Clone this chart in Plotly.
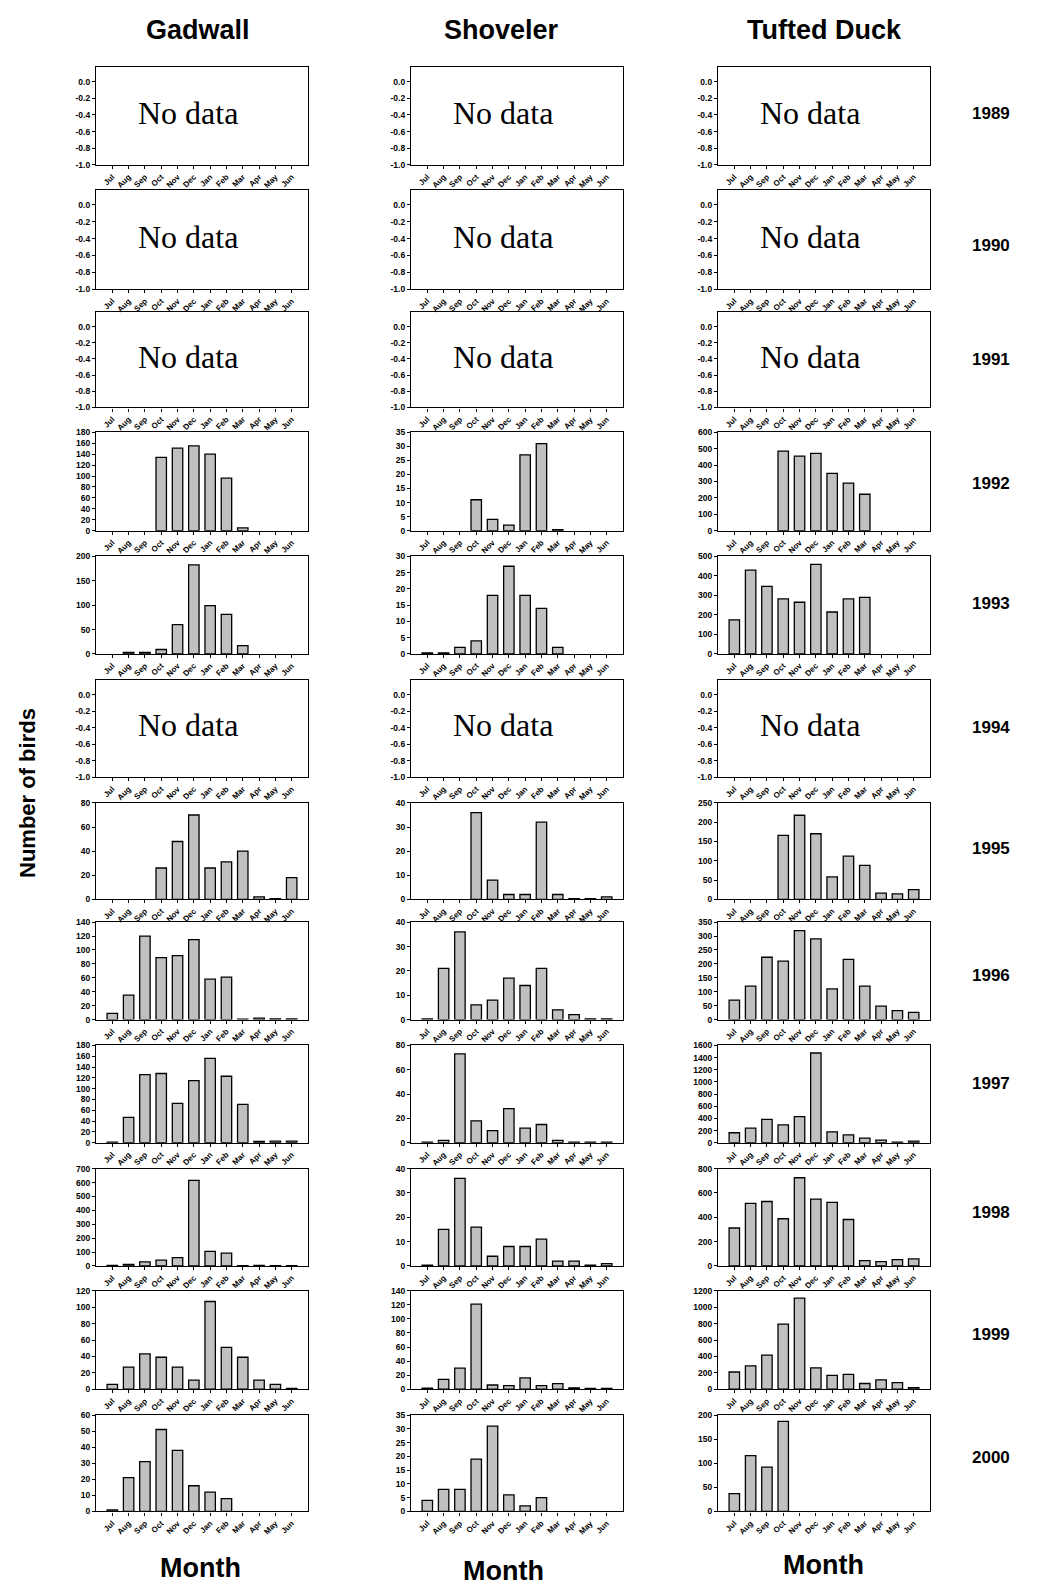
import plotly.graph_objects as go

W, H = 1042, 1585

MONTHS = ["Jul", "Aug", "Sep", "Oct", "Nov", "Dec", "Jan", "Feb", "Mar", "Apr", "May", "Jun"]
YEARS = ["1989", "1990", "1991", "1992", "1993", "1994", "1995", "1996", "1997", "1998", "1999", "2000"]
SPECIES = ["Gadwall", "Shoveler", "Tufted Duck"]
N = None

# ---- Gadwall (None = no data for that year) ----
gadwall_1989 = None
gadwall_1990 = None
gadwall_1991 = None
gadwall_1992 = [N, N, N, 134, 151, 155, 140, 96, 5, N, N, N]
gadwall_1993 = [N, 3, 3, 9, 60, 183, 99, 81, 17, N, N, N]
gadwall_1994 = None
gadwall_1995 = [N, N, N, 26, 48, 70, 26, 31, 40, 2, 0.5, 18]
gadwall_1996 = [9, 35, 120, 89, 92, 115, 58, 61, 0.5, 2, 1, 1]
gadwall_1997 = [1, 47, 126, 128, 73, 115, 156, 123, 71, 2.5, 3, 3]
gadwall_1998 = [5, 12, 30, 42, 60, 615, 105, 92, 3, 5, 3, 3]
gadwall_1999 = [6, 27, 43, 39, 27, 11, 107, 51, 39, 11, 6, 1]
gadwall_2000 = [1, 21, 31, 51, 38, 16, 12, 8, N, N, N, N]
gadwall_ymax = [N, N, N, 180, 200, N, 80, 140, 180, 700, 120, 60]
gadwall_dtick = [N, N, N, 20, 50, N, 20, 20, 20, 100, 20, 10]

# ---- Shoveler ----
shoveler_1989 = None
shoveler_1990 = None
shoveler_1991 = None
shoveler_1992 = [N, N, N, 11, 4, 2, 27, 31, 0.4, N, N, N]
shoveler_1993 = [0.3, 0.3, 2, 4, 18, 27, 18, 14, 2, N, N, N]
shoveler_1994 = None
shoveler_1995 = [N, N, N, 36, 8, 2, 2, 32, 2, 0.3, 0.3, 1]
shoveler_1996 = [0.3, 21, 36, 6, 8, 17, 14, 21, 4, 2, 0.3, 0.3]
shoveler_1997 = [0.5, 2, 73, 18, 10, 28, 12, 15, 2, 0.5, 0.5, 0.5]
shoveler_1998 = [0.3, 15, 36, 16, 4, 8, 8, 11, 2, 2, 0.3, 1]
shoveler_1999 = [1.5, 14, 30, 121, 6, 5, 16, 5, 8, 2, 1, 1]
shoveler_2000 = [4, 8, 8, 19, 31, 6, 2, 5, N, N, N, N]
shoveler_ymax = [N, N, N, 35, 30, N, 40, 40, 80, 40, 140, 35]
shoveler_dtick = [N, N, N, 5, 5, N, 10, 10, 20, 10, 20, 5]

# ---- Tufted Duck ----
tufted_1989 = None
tufted_1990 = None
tufted_1991 = None
tufted_1992 = [N, N, N, 485, 455, 472, 350, 290, 222, N, N, N]
tufted_1993 = [175, 430, 347, 282, 265, 460, 215, 282, 290, N, N, N]
tufted_1994 = None
tufted_1995 = [N, N, N, 166, 218, 170, 58, 112, 88, 16, 14, 25]
tufted_1996 = [70, 120, 224, 210, 320, 290, 110, 216, 120, 48, 32, 26]
tufted_1997 = [165, 240, 385, 295, 430, 1475, 180, 130, 75, 45, 12, 27]
tufted_1998 = [312, 515, 530, 388, 725, 550, 522, 382, 44, 36, 52, 58]
tufted_1999 = [210, 285, 415, 795, 1110, 260, 170, 180, 70, 115, 80, 20]
tufted_2000 = [37, 116, 92, 187, N, N, N, N, N, N, N, N]
tufted_ymax = [N, N, N, 600, 500, N, 250, 350, 1600, 800, 1200, 200]
tufted_dtick = [N, N, N, 100, 100, N, 50, 50, 200, 200, 200, 50]

NODATA_TICKS = [0.0, -0.2, -0.4, -0.6, -0.8, -1.0]

g = globals()
SERIES = {
    "Gadwall": [g["gadwall_" + y] for y in YEARS],
    "Shoveler": [g["shoveler_" + y] for y in YEARS],
    "Tufted Duck": [g["tufted_" + y] for y in YEARS],
}
YMAX = {"Gadwall": gadwall_ymax, "Shoveler": shoveler_ymax, "Tufted Duck": tufted_ymax}
DTICK = {"Gadwall": gadwall_dtick, "Shoveler": shoveler_dtick, "Tufted Duck": tufted_dtick}

# ---- layout geometry (pixels) ----
COL_X = [(96, 308), (411, 623), (718, 930)]
ROW_Y = [(62, 161), (186, 286), (309, 405), (430, 529), (555, 653), (679, 777),
         (803, 900), (923, 1021), (1047, 1145), (1171, 1269), (1294, 1393), (1419, 1516)]
YEAR_LABEL_Y = [109, 242, 357, 482, 602, 727, 849, 977, 1085, 1215, 1338, 1462]

def px_x(v):
    return v / W

def px_y(v):
    return 1 - v / H

fig = go.Figure()
layout = dict(
    width=W, height=H, autosize=False,
    margin=dict(l=0, r=0, t=0, b=0),
    paper_bgcolor="white", plot_bgcolor="white",
    showlegend=False,
    annotations=[],
)

TICKFONT = dict(family="Liberation Sans, Arial", size=8.5, color="black", weight=700)
XTICKFONT = dict(family="Liberation Sans, Arial", size=8, color="black", weight=700)

for r, year in enumerate(YEARS):
    for c, sp in enumerate(SPECIES):
        idx = r * 3 + c + 1
        sfx = "" if idx == 1 else str(idx)
        vals = SERIES[sp][r]
        x0, x1 = COL_X[c]
        y0, y1 = ROW_Y[r]
        fig.add_trace(go.Bar(
            x=MONTHS, y=vals if vals is not None else [None] * len(MONTHS),
            xaxis="x" + sfx, yaxis="y" + sfx,
            marker=dict(color="#c0c0c0", line=dict(color="black", width=1.3)),
            width=0.64, hoverinfo="skip",
        ))
        layout["xaxis" + sfx] = dict(
            domain=[px_x(x0), px_x(x1)], anchor="y" + sfx,
            type="category", categoryorder="array", categoryarray=MONTHS,
            range=[-1, 12], tickangle=-45, tickfont=XTICKFONT,
            showline=True, mirror=True, linecolor="black", linewidth=1.3,
            ticks="outside", ticklen=3, tickwidth=1, tickcolor="black",
            showgrid=False, zeroline=False, fixedrange=True,
        )
        if vals is None:
            tv = NODATA_TICKS
            tt = ["%.1f" % v for v in tv]
            yr = [-1.0, 0.18]
            layout["annotations"].append(dict(
                text="No data", xref="paper", yref="paper",
                x=px_x((x0 + x1) / 2 - 14), y=px_y((y0 + y1) / 2 - 3),
                xanchor="center", yanchor="middle", showarrow=False,
                font=dict(family="Liberation Serif, Times New Roman", size=32, color="black"),
            ))
        else:
            ymax = YMAX[sp][r]
            dt = DTICK[sp][r]
            tv = list(range(0, ymax + 1, dt))
            tt = [str(v) for v in tv]
            yr = [0, ymax]
        layout["yaxis" + sfx] = dict(
            domain=[px_y(y1), px_y(y0)], anchor="x" + sfx,
            range=yr, tickvals=tv, ticktext=tt, tickfont=TICKFONT,
            showline=True, mirror=True, linecolor="black", linewidth=1.3,
            ticks="outside", ticklen=3, tickwidth=1, tickcolor="black",
            showgrid=False, zeroline=False, fixedrange=True,
        )

# column titles
TITLE_X = [198, 501, 824]
for c, sp in enumerate(SPECIES):
    layout["annotations"].append(dict(
        text=sp, xref="paper", yref="paper", x=px_x(TITLE_X[c]), y=px_y(25),
        xanchor="center", yanchor="middle", showarrow=False,
        font=dict(family="Liberation Sans, Arial", size=27, color="black", weight=700),
    ))

# Month labels
MONTH_POS = [(200, 1573), (503, 1576), (823, 1570)]
for (mx, my) in MONTH_POS:
    layout["annotations"].append(dict(
        text="Month", xref="paper", yref="paper", x=px_x(mx), y=px_y(my),
        xanchor="center", yanchor="middle", showarrow=False,
        font=dict(family="Liberation Sans, Arial", size=27, color="black", weight=700),
    ))

# Year labels
for r, year in enumerate(YEARS):
    layout["annotations"].append(dict(
        text=year, xref="paper", yref="paper", x=px_x(991), y=px_y(YEAR_LABEL_Y[r]),
        xanchor="center", yanchor="middle", showarrow=False,
        font=dict(family="Liberation Sans, Arial", size=17, color="black", weight=700),
    ))

# y-axis title
layout["annotations"].append(dict(
    text="Number of birds", xref="paper", yref="paper", x=px_x(28), y=px_y(793),
    xanchor="center", yanchor="middle", showarrow=False, textangle=-90,
    font=dict(family="Liberation Sans, Arial", size=22, color="black", weight=700),
))

fig.update_layout(**layout)
fig.write_html("out.html")
